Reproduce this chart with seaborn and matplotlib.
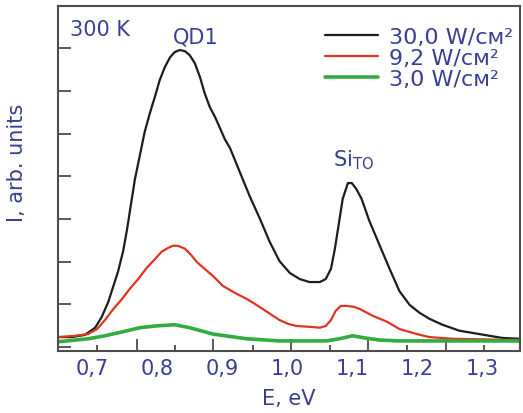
import matplotlib
matplotlib.use("Agg")
import matplotlib.pyplot as plt
import pandas as pd
import seaborn as sns

TEXT_COLOR = "#3b3e96"
SPINE_COLOR = "#4d4d4d"

# photoluminescence spectra (E in eV, I in arb. units)
energy_30 = [0.648, 0.669, 0.689, 0.705, 0.715, 0.725, 0.732, 0.740, 0.748, 0.754,
             0.760, 0.766, 0.774, 0.781, 0.789, 0.797, 0.804, 0.812, 0.820, 0.827,
             0.835, 0.843, 0.850, 0.858, 0.866, 0.873, 0.881, 0.889, 0.896, 0.904,
             0.912, 0.919, 0.927, 0.942, 0.958, 0.973, 0.988, 1.004, 1.019, 1.034,
             1.050, 1.059, 1.067, 1.073, 1.079, 1.085, 1.093, 1.099, 1.106, 1.114,
             1.126, 1.142, 1.157, 1.172, 1.188, 1.203, 1.218, 1.238, 1.264, 1.295,
             1.330, 1.356]
intensity_30 = [0.23, 0.23, 0.28, 0.45, 0.70, 1.05, 1.38, 1.76, 2.25, 2.76,
                3.35, 3.93, 4.52, 5.04, 5.48, 5.88, 6.25, 6.56, 6.79, 6.91,
                6.96, 6.93, 6.84, 6.65, 6.32, 5.95, 5.62, 5.39, 5.15, 4.87,
                4.66, 4.40, 4.10, 3.54, 3.00, 2.46, 2.01, 1.73, 1.59, 1.52,
                1.52, 1.59, 1.83, 2.30, 2.88, 3.47, 3.84, 3.84, 3.70, 3.47,
                2.95, 2.37, 1.83, 1.31, 0.98, 0.80, 0.66, 0.52, 0.38, 0.30,
                0.21, 0.19]

energy_9 = [0.648, 0.674, 0.694, 0.708, 0.720, 0.732, 0.746, 0.758, 0.771, 0.784,
            0.797, 0.807, 0.817, 0.824, 0.832, 0.843, 0.852, 0.861, 0.873, 0.886,
            0.901, 0.919, 0.938, 0.950, 0.962, 0.976, 0.988, 1.001, 1.014, 1.034,
            1.050, 1.059, 1.067, 1.074, 1.082, 1.091, 1.102, 1.111, 1.131, 1.153,
            1.172, 1.199, 1.218, 1.254, 1.356]
intensity_9 = [0.23, 0.26, 0.30, 0.42, 0.63, 0.87, 1.12, 1.36, 1.59, 1.85,
               2.06, 2.23, 2.32, 2.37, 2.37, 2.30, 2.16, 1.99, 1.83, 1.66,
               1.43, 1.27, 1.12, 1.01, 0.89, 0.75, 0.63, 0.54, 0.49, 0.47,
               0.45, 0.49, 0.63, 0.84, 0.96, 0.96, 0.94, 0.89, 0.73, 0.59,
               0.42, 0.30, 0.23, 0.19, 0.16]

energy_3 = [0.648, 0.694, 0.720, 0.746, 0.774, 0.797, 0.827, 0.850, 0.886, 0.938,
            0.988, 1.060, 1.080, 1.100, 1.119, 1.142, 1.172, 1.356]
intensity_3 = [0.12, 0.19, 0.26, 0.35, 0.45, 0.49, 0.52, 0.45, 0.30, 0.19,
               0.14, 0.14, 0.19, 0.26, 0.21, 0.16, 0.14, 0.14]

series_labels = ["30,0 W/см²", "9,2 W/см²", "3,0 W/см²"]
series_colors = ["#1c1c24", "#e03420", "#30ad40"]
series_widths = [1.6, 1.6, 2.6]

label_ticks = [0.7, 0.8, 0.9, 1.0, 1.1, 1.2, 1.3]
label_texts = ["0,7", "0,8", "0,9", "1,0", "1,1", "1,2", "1,3"]
long_ticks = [0.769, 0.886, 1.005, 1.124, 1.243]
short_ticks = [0.708, 0.827, 0.947, 1.065, 1.183, 1.302]

sns.set_theme(style="white")
plt.rcParams["font.family"] = ["DejaVu Sans"]
plt.rcParams["mathtext.default"] = "regular"

fig = plt.figure(figsize=(5.23, 4.14), dpi=100)
ax = fig.add_axes([0.111, 0.150, 0.883, 0.833])

data = [(energy_30, intensity_30), (energy_9, intensity_9), (energy_3, intensity_3)]
for (e, i), label, color, lw in zip(data, series_labels, series_colors, series_widths):
    df = pd.DataFrame({"E": e, "I": i})
    sns.lineplot(data=df, x="E", y="I", color=color, linewidth=lw, label=label,
                 sort=False, ax=ax)

ax.set_xlim(0.648, 1.357)
ax.set_ylim(-0.094, 7.99)

for s in ax.spines.values():
    s.set_color(SPINE_COLOR)
    s.set_linewidth(1.5)

ax.set_yticks(range(8))
ax.set_yticklabels([])
ax.tick_params(axis="y", direction="in", length=9.5, width=1.3, color=SPINE_COLOR, left=True)

ax.set_xticks(long_ticks)
ax.set_xticks(short_ticks, minor=True)
ax.set_xticklabels([])
ax.tick_params(axis="x", which="major", direction="in", length=8.5, width=1.3,
               color=SPINE_COLOR, bottom=True)
ax.tick_params(axis="x", which="minor", direction="in", length=4.3, width=1.3,
               color=SPINE_COLOR, bottom=True)

sec = ax.secondary_xaxis("bottom")
sec.set_xticks(label_ticks, label_texts)
sec.tick_params(length=0, pad=5, labelsize=15, labelcolor=TEXT_COLOR)
sec.spines["bottom"].set_visible(False)
sec.set_xlabel("E, eV", fontsize=15, color=TEXT_COLOR, labelpad=7)
ax.set_xlabel("")

ax.set_ylabel("I, arb. units", fontsize=15, color=TEXT_COLOR)
ax.yaxis.set_label_coords(-0.068, 0.548)

ax.text(0.026, 0.933, "300 K", transform=ax.transAxes, fontsize=15,
        color=TEXT_COLOR, va="center", ha="left")
ax.text(0.297, 0.913, "QD1", transform=ax.transAxes, fontsize=15,
        color=TEXT_COLOR, va="center", ha="center")
ax.text(0.595, 0.557, "Si$_{TO}$", transform=ax.transAxes, fontsize=15,
        color=TEXT_COLOR, va="center", ha="left")

ax.legend(loc="upper left", bbox_to_anchor=(0.578, 0.940), frameon=False,
          fontsize=16, labelcolor=TEXT_COLOR, handlelength=2.4, handletextpad=0.5,
          labelspacing=0.05, borderpad=0, borderaxespad=0)

fig.savefig("out.png", dpi=100)
